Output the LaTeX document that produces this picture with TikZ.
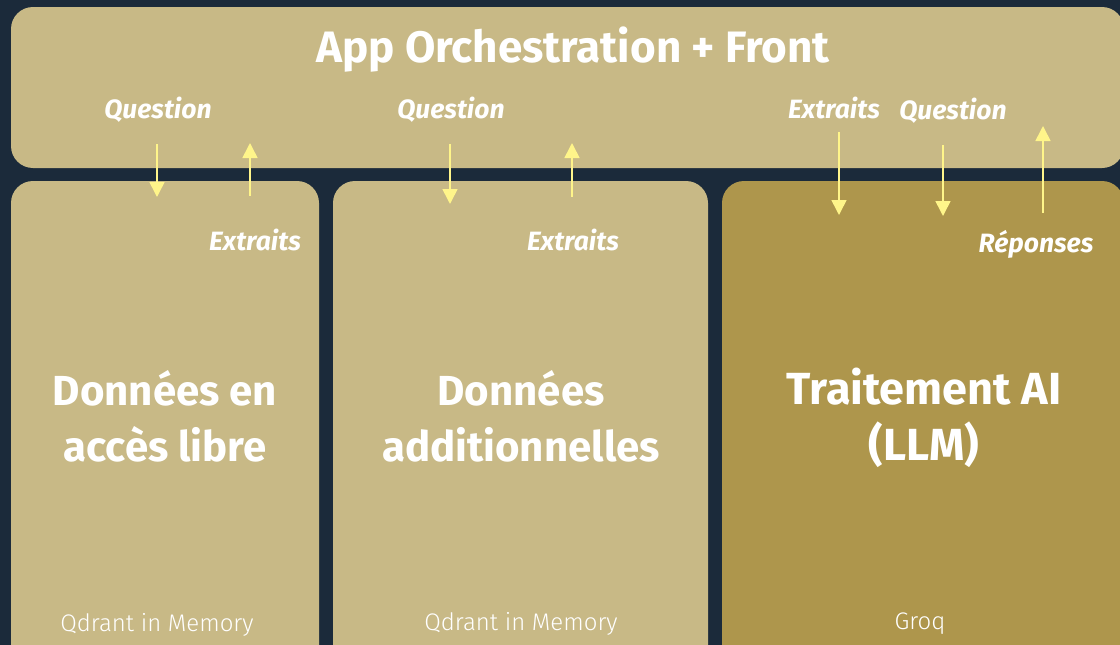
\documentclass[tikz,border=0pt]{standalone}
\usepackage{fontspec}
\setmainfont{Fira Sans}
\newfontfamily\lightfont{Fira Sans Light}
\usetikzlibrary{arrows.meta}
\definecolor{bg}{HTML}{1B2A3A}
\definecolor{tan}{HTML}{C8B986}
\definecolor{gold}{HTML}{AE964C}
\definecolor{arr}{HTML}{FFF58A}
\tikzset{
  panel/.style={fill=#1, draw=none, rounded corners=22pt},
  title/.style={text=white, font=\bfseries\fontsize{44}{48}\selectfont},
  big/.style={text=white, font=\bfseries\fontsize{42}{56}\selectfont, align=center},
  lab/.style={text=white, font=\bfseries\itshape\fontsize{26.5}{28}\selectfont},
  foot/.style={text=white, font=\lightfont\fontsize{24}{26}\selectfont},
  flow/.style={draw=arr, line width=1.6pt, -{Triangle[length=15pt,width=15pt]}, fill=arr},
}
\begin{document}
\begin{tikzpicture}[x=1pt,y=-1pt]
\fill[bg] (0,0) rectangle (1120,645);
\useasboundingbox (0,0) rectangle (1120,645);
\fill[panel=tan] (11,7) rectangle (1124,168);
\fill[panel=tan] (11,181) rectangle (319,680);
\fill[panel=tan] (333,181) rectangle (708,680);
\fill[panel=gold] (722,181) rectangle (1124,680);
\node[title] (t) at (573,50) {App Orchestration + Front};
% labels
\node[lab] (q1) at (158,110) {Question};
\node[lab] (e1) at (255,240) {Extraits};
\node[lab] (q2) at (451,110) {Question};
\node[lab] (e2) at (573,240) {Extraits};
\node[lab] (e3) at (834,108) {Extraits};
\node[lab] (q3) at (953,111) {Question};
\node[lab] (r3) at (1036,244) {Réponses};
% arrows
\coordinate (a1s) at (157,144); \coordinate (a1e) at (157,197);
\coordinate (b1s) at (250,196); \coordinate (b1e) at (250,143);
\coordinate (a2s) at (450,144); \coordinate (a2e) at (450,204);
\coordinate (b2s) at (572,197); \coordinate (b2e) at (572,143);
\coordinate (a3s) at (839,132); \coordinate (a3e) at (839,215);
\coordinate (c3s) at (943,145); \coordinate (c3e) at (943,216);
\coordinate (b3s) at (1043,213); \coordinate (b3e) at (1043,126);
\foreach \s/\e in {a1s/a1e,b1s/b1e,a2s/a2e,b2s/b2e,a3s/a3e,c3s/c3e,b3s/b3e}
  \draw[flow] (\s) -- (\e);
% main texts
\node[big] (d1) at (165,416) {Données en\\accès libre};
\node[big] (d2) at (521,416) {Données\\additionnelles};
\node[big, font=\bfseries\fontsize{45}{56}\selectfont] (d3) at (924,418) {Traitement AI\\(LLM)};
\node[foot] (f1) at (157,625) {Qdrant in Memory};
\node[foot] (f2) at (521,624) {Qdrant in Memory};
\node[foot] (f3) at (920,624) {Groq};
\end{tikzpicture}
\end{document}
